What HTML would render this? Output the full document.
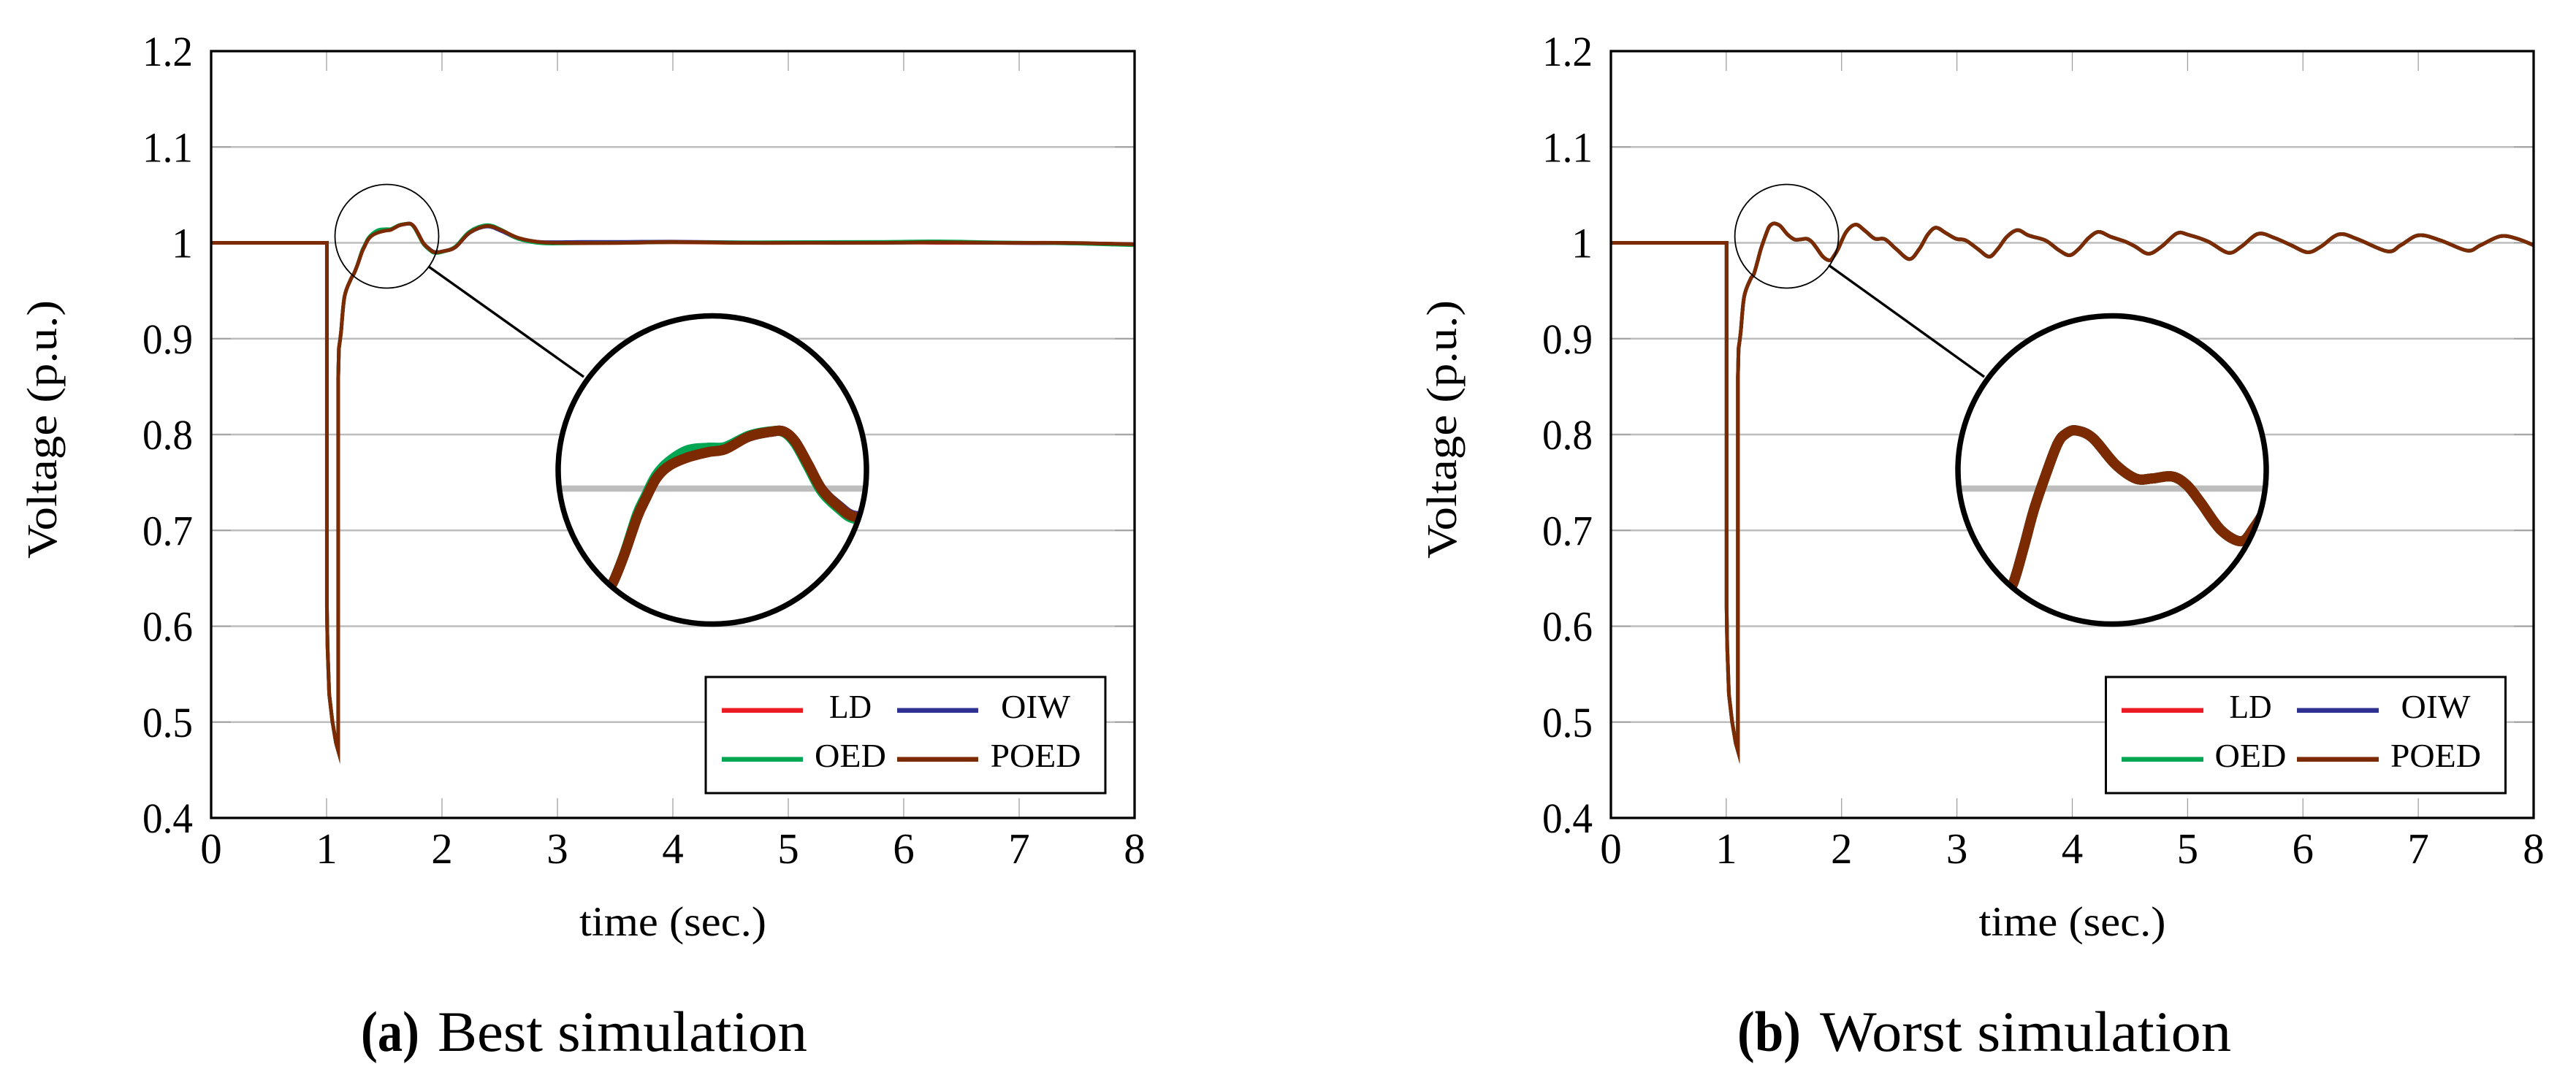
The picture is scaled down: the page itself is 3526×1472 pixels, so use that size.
<!DOCTYPE html>
<html lang="en">
<head>
<meta charset="utf-8">
<title>Voltage response: best and worst simulation</title>
<style>
html,body{margin:0;padding:0;background:#fff;width:3526px;height:1472px;overflow:hidden}
#wrap{width:3526px;height:1472px;overflow:hidden;position:relative}
svg{display:block}
text{font-family:"Liberation Serif",serif;fill:#000}
</style>
</head>
<body>
<div id="wrap">
<svg id="figure" xmlns="http://www.w3.org/2000/svg" width="3526" height="1472" viewBox="0 0 3526 1472"></svg>
</div>
<script>
// ---- axis data ----
const xTickValues = [0,1,2,3,4,5,6,7,8];
const xTickLabels = ['0','1','2','3','4','5','6','7','8'];
const yTickValues = [0.4,0.5,0.6,0.7,0.8,0.9,1.0,1.1,1.2];
const yTickLabels = ['0.4','0.5','0.6','0.7','0.8','0.9','1','1.1','1.2'];
const seriesNames = ['LD','OIW','OED','POED'];

// ---- (a) best simulation ----
const bestTime = [0,1.003,1.003,1.008,1.023,1.05,1.082,1.101,1.101,1.107,1.125,1.155,1.21,1.238,1.269,1.305,1.329,1.36,1.396,1.45,1.511,1.56,1.628,1.693,1.729,1.761,1.799,1.838,1.886,1.934,2.01,2.115,2.24,2.39,2.517,2.665,2.875,3.2,3.6,4,4.6,5.2,5.8,6.3,6.8,7.4,8];
const bestLD   = [1,1,0.62,0.58,0.529,0.501,0.478,0.47,0.86,0.89,0.9066,0.9436,0.962,0.968,0.9774,0.990,0.9963,1.0035,1.0080,1.0112,1.0130,1.0140,1.0181,1.0198,1.0198,1.0164,1.0084,0.9998,0.9939,0.9902,0.9912,0.9954,1.0112,1.0180,1.0130,1.0045,1.0000,0.9995,1.0,1.0005,1.0,1.0,1.0005,1.0,1.0,0.9995,0.9985];
const bestOIW  = [1,1,0.62,0.58,0.529,0.501,0.478,0.47,0.86,0.89,0.9066,0.9436,0.962,0.968,0.9774,0.990,0.9963,1.0035,1.0082,1.0115,1.0132,1.0142,1.0181,1.0198,1.0198,1.0164,1.0084,0.9998,0.9942,0.9905,0.9912,0.9954,1.0105,1.0170,1.0122,1.0042,1.0008,1.0010,1.0010,1.0012,1.0005,1.0,1.0,1.0005,1.0,0.9995,0.9985];
const bestOED  = [1,1,0.62,0.58,0.529,0.501,0.478,0.47,0.86,0.89,0.9066,0.9436,0.962,0.968,0.9776,0.991,0.9972,1.0046,1.0093,1.0133,1.0142,1.0145,1.0184,1.0199,1.0196,1.0158,1.0076,0.9990,0.9932,0.9895,0.9908,0.9960,1.0118,1.0185,1.0134,1.0040,0.9995,0.9998,1.0,1.0008,1.0005,1.0008,1.0010,1.0015,1.0005,0.9995,0.9975];
const bestPOED = [1,1,0.62,0.58,0.529,0.501,0.478,0.47,0.86,0.89,0.9066,0.9436,0.962,0.968,0.9774,0.990,0.9963,1.0035,1.0078,1.0108,1.0127,1.0137,1.0181,1.0198,1.0198,1.0164,1.0084,0.9998,0.9939,0.9902,0.9912,0.9954,1.0107,1.0175,1.0130,1.0050,1.0005,1.0,1.0,1.0010,1.0,1.0,1.0,1.0005,1.0,1.0,0.9985];

// ---- (b) worst simulation (the four series coincide at this resolution) ----
const worstTime = [0,1.003,1.003,1.008,1.023,1.05,1.082,1.101,1.101,1.107,1.125,1.155,1.21,1.238,1.268,1.298,1.332,1.367,1.392,1.421,1.468,1.533,1.592,1.639,1.698,1.74,1.781,1.839,1.898,1.934,1.97,2.04,2.122,2.202,2.288,2.375,2.473,2.588,2.674,2.749,2.818,2.904,2.991,3.077,3.181,3.279,3.354,3.434,3.526,3.624,3.768,3.883,3.975,4.056,4.142,4.229,4.332,4.459,4.545,4.66,4.775,4.908,5.006,5.179,5.352,5.467,5.611,5.754,5.898,6.042,6.157,6.313,6.474,6.733,6.848,7.004,7.194,7.424,7.539,7.712,7.856,8];
const worstLD = [1,1,0.62,0.58,0.529,0.501,0.478,0.47,0.86,0.89,0.9066,0.9436,0.962,0.967,0.9792,0.9926,1.0047,1.0157,1.0192,1.0202,1.0176,1.0085,1.0035,1.0035,1.0042,1.0012,0.995,0.9855,0.9817,0.9864,0.9936,1.0114,1.019,1.0127,1.0043,1.0038,0.9936,0.983,0.9936,1.0089,1.0158,1.0102,1.0043,1.0025,0.9936,0.9855,0.9936,1.0064,1.0132,1.0076,1.0025,0.9924,0.987,0.9936,1.0051,1.0114,1.0064,1.0013,0.9962,0.9886,0.9962,1.0099,1.0084,1.0013,0.9896,0.9962,1.0094,1.0051,0.9975,0.9901,0.9962,1.0089,1.0038,0.9911,0.9975,1.0079,1.0025,0.9919,0.9975,1.0069,1.0043,0.9975];
const worstOIW = worstLD;
const worstOED = worstLD;
const worstPOED = worstLD;

const SVGNS = 'http://www.w3.org/2000/svg';
const svg = document.getElementById('figure');
const seriesColors = {LD:'#ed1c24',OIW:'#2e3192',OED:'#00a651',POED:'#7b2a02'};

function mk(tag, attrs, parent){
  const e = document.createElementNS(SVGNS, tag);
  for (const k in attrs) e.setAttribute(k, attrs[k]);
  parent.appendChild(e);
  return e;
}
function label(str, attrs, parent){
  const e = mk('text', attrs, parent);
  e.textContent = str;
  return e;
}
// Smooth path through the samples; the fault dip stays piecewise linear.
function buildPath(ts, vs, fx, fy){
  const px = ts.map(fx), py = vs.map(fy);
  let d = 'M' + px[0].toFixed(2) + ' ' + py[0].toFixed(2);
  for (let i = 0; i < ts.length - 1; i++){
    if (ts[i+1] <= 1.12){
      d += 'L' + px[i+1].toFixed(2) + ' ' + py[i+1].toFixed(2);
    } else {
      const a = (ts[i] <= 1.12 || i === 0) ? i : i - 1;
      const b = Math.min(i + 2, ts.length - 1);
      const c1x = px[i] + (px[i+1] - px[a]) / 6, c1y = py[i] + (py[i+1] - py[a]) / 6;
      const c2x = px[i+1] - (px[b] - px[i]) / 6, c2y = py[i+1] - (py[b] - py[i]) / 6;
      d += 'C' + c1x.toFixed(2) + ' ' + c1y.toFixed(2) + ' ' + c2x.toFixed(2) + ' ' + c2y.toFixed(2) + ' ' + px[i+1].toFixed(2) + ' ' + py[i+1].toFixed(2);
    }
  }
  return d;
}

function drawPanel(p){
  const TOP = 70, BOTTOM = 1120;
  const xs = t => p.left + (t - 0) / 8 * (p.right - p.left);
  const ys = v => TOP + (1.2 - v) / 0.8 * (BOTTOM - TOP);
  const mx = X => p.magX + 3 * (X - p.spyX);
  const my = Y => p.magY + 3 * (Y - 324);

  const g = mk('g', {}, svg);
  
  

  // grid lines
  yTickValues.forEach(v => {
    if (v <= 0.4 || v >= 1.2) return;
    const line = mk('line', {x1:p.left, x2:p.right, y1:ys(v), y2:ys(v), stroke:'#bdbdbd', 'stroke-width':2.6}, g);
    
    
  });
  // ticks (inside, both sides)
  yTickValues.forEach((v, i) => {
    if (v > 0.4 && v < 1.2) {
      [[p.left, p.left + 27], [p.right - 27, p.right]].forEach(s => {
        const tick = mk('line', {x1:s[0], x2:s[1], y1:ys(v), y2:ys(v), stroke:'#999', 'stroke-width':1.2}, g);
        
        
      });
    }
    const attrs = {x:p.left - 25, y:ys(v) + 20, 'font-size':58, 'text-anchor':'end'};
    if (yTickLabels[i].length > 1) { attrs.textLength = 69; attrs.lengthAdjust = 'spacingAndGlyphs'; }
    const t = label(yTickLabels[i], attrs, g);
    
    
  });
  xTickValues.forEach((v, i) => {
    if (v > 0 && v < 8) {
      [[TOP, TOP + 27], [BOTTOM - 27, BOTTOM]].forEach(s => {
        const tick = mk('line', {x1:xs(v), x2:xs(v), y1:s[0], y2:s[1], stroke:'#999', 'stroke-width':1.2}, g);
        
        
      });
    }
    const t = label(xTickLabels[i], {x:xs(v), y:1182, 'font-size':59, 'text-anchor':'middle'}, g);
    
    
  });

  // series
  seriesNames.forEach((name, i) => {
    const path = mk('path', {d:buildPath(p.time, p.values[i], xs, ys), fill:'none', stroke:seriesColors[name], 'stroke-width':5, 'stroke-linejoin':'miter', 'stroke-miterlimit':30}, g);
    
    
  });

  // spy lens on the plot
  const lens = mk('ellipse', {cx:p.spyX, cy:p.spyY, rx:71, ry:71, fill:'none', stroke:'#000', 'stroke-width':1.8}, g);
  
  
  const conn = mk('line', {x1:p.conn[0], y1:p.conn[1], x2:p.conn[2], y2:p.conn[3], stroke:'#000', 'stroke-width':3.4}, g);
  
  

  // magnified inset
  const R = 211;
  const clip = mk('clipPath', {id:p.id + '-clip'}, g);
  
  
  const clipC = mk('circle', {cx:p.magX, cy:p.magY, r:R}, clip);
  
  
  const bg = mk('circle', {cx:p.magX, cy:p.magY, r:R, fill:'#fff'}, g);
  
  
  const inset = mk('g', {'clip-path':'url(#' + p.id + '-clip)'}, g);
  
  
  const igrid = mk('line', {x1:p.magX - R, x2:p.magX + R, y1:my(ys(1)), y2:my(ys(1)), stroke:'#bdbdbd', 'stroke-width':8.4}, inset);
  
  
  // only the samples inside the lens window are magnified
  const win = p.time.map((t, i) => (t >= 1.18 && t <= 2.05) ? i : -1).filter(i => i >= 0);
  const winTime = win.map(i => p.time[i]);
  seriesNames.forEach((name, i) => {
    const winV = win.map(k => p.values[i][k]);
    const path = mk('path', {d:buildPath(winTime, winV, t => mx(xs(t)), v => my(ys(v))), fill:'none', stroke:seriesColors[name], 'stroke-width':14}, inset);
    
    
  });
  const ring = mk('circle', {cx:p.magX, cy:p.magY, r:R, fill:'none', stroke:'#000', 'stroke-width':7.5}, g);
  
  

  // legend
  const lg = mk('g', {}, g);
  
  
  const box = mk('rect', {x:p.legend.x, y:927, width:p.legend.w, height:159, fill:'#fff', stroke:'#000', 'stroke-width':3}, lg);
  
  
  const rowY = [972.7, 1039.7], rowBase = [983, 1050];
  const legendWidths = [58, 95, 98, 124];
  seriesNames.forEach((name, i) => {
    const col = i % 2, row = i < 2 ? 0 : 1;
    const sw = mk('line', {x1:p.legend.sample[col], x2:p.legend.sample[col] + p.legend.sampleW, y1:rowY[row], y2:rowY[row], stroke:seriesColors[name], 'stroke-width':6.5}, lg);
    
    
    const t = label(name, {x:p.legend.text[col], y:rowBase[row], 'font-size':46, 'text-anchor':'middle', textLength:legendWidths[i], lengthAdjust:'spacingAndGlyphs'}, lg);
    
    
  });

  // frame
  const frame = mk('rect', {x:p.left, y:TOP, width:p.right - p.left, height:BOTTOM - TOP, fill:'none', stroke:'#000', 'stroke-width':3.3}, g);
  
  

  // titles
  const yt = label('Voltage (p.u.)', {x:0, y:0, transform:'translate(' + p.yTitleX + ' 588) rotate(-90)', 'font-size':58, 'text-anchor':'middle', textLength:354, lengthAdjust:'spacingAndGlyphs'}, g);
  
  
  const xt = label('time (sec.)', {x:(p.left + p.right) / 2, y:1281, 'font-size':57, 'text-anchor':'middle', textLength:256, lengthAdjust:'spacingAndGlyphs'}, g);
  
  
  const c1 = label(p.capTag, {x:p.capTagX, y:1439, 'font-size':78, 'font-weight':'bold', textLength:p.capTagW, lengthAdjust:'spacingAndGlyphs'}, g);
  
  
  const c2 = label(p.capText, {x:p.capTextX, y:1439, 'font-size':78, textLength:p.capTextW, lengthAdjust:'spacingAndGlyphs'}, g);
  
  
}

drawPanel({
  id:'best', left:289, right:1553, time:bestTime, values:[bestLD,bestOIW,bestOED,bestPOED],
  spyX:529.5, spyY:323.5, magX:975, magY:643.5, conn:[586.7,365,799,516],
  legend:{x:966, w:547, sample:[988,1228], sampleW:111, text:[1164,1417.6]},
  yTitleX:77, capTag:'(a)', capTagX:494, capTagW:80, capText:'Best simulation', capTextX:599, capTextW:506
});
drawPanel({
  id:'worst', left:2205, right:3468, time:worstTime, values:[worstLD,worstOIW,worstOED,worstPOED],
  spyX:2445.6, spyY:323.5, magX:2891, magY:643.5, conn:[2503,363,2716,516],
  legend:{x:2882.5, w:547, sample:[2904,3144], sampleW:112, text:[3080.5,3334]},
  yTitleX:1993, capTag:'(b)', capTagX:2378, capTagW:87, capText:'Worst simulation', capTextX:2491, capTextW:563
});
</script>
</body>
</html>
